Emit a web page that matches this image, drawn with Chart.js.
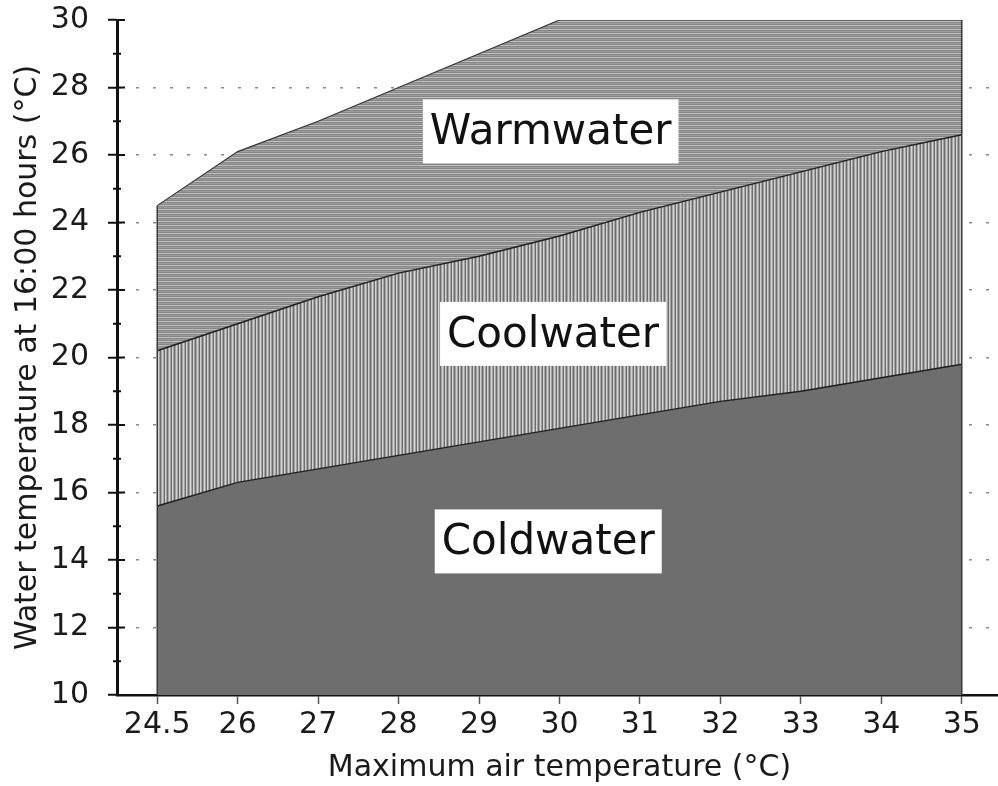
<!DOCTYPE html>
<html>
<head>
<meta charset="utf-8">
<script src="https://cdn.jsdelivr.net/npm/chart.js@4.4.0/dist/chart.umd.min.js"></script>
<style>
  html, body { margin: 0; padding: 0; background: #fff; overflow: hidden; }
  #wrap { width: 1002px; height: 786px; }
</style>
</head>
<body>
<div id="wrap"><canvas id="grafico"></canvas></div>
<script>
// eixo x: temperatura máxima do ar (categorias igualmente espaçadas)
const airTemps = ['24.5', '26', '27', '28', '29', '30', '31', '32', '33', '34', '35'];
// limites superiores de cada zona (°C)
const coldUpper = [15.6, 16.3, 16.7, 17.1, 17.5, 17.9, 18.3, 18.7, 19.0, 19.4, 19.8];
const coolUpper = [20.2, 21.0, 21.8, 22.5, 23.0, 23.6, 24.3, 24.9, 25.5, 26.1, 26.6];
const warmUpper = [24.5, 26.1, 27.0, 28.0, 29.0, 30, 30, 30, 30, 30, 30];
const zoneNames = ['Coldwater', 'Coolwater', 'Warmwater'];
const yTicksMajor = [10, 12, 14, 16, 18, 20, 22, 24, 26, 28, 30];

const FONTE = '"DejaVu Sans", sans-serif';

function padrao(w, h, desenhar) {
    const c = document.createElement('canvas');
    c.width = w; c.height = h;
    const g = c.getContext('2d');
    desenhar(g);
    return g.createPattern(c, 'repeat');
}

// hachura vertical (coolwater)
const listrasVerticais = padrao(7, 1, g => {
    g.fillStyle = '#a4a4a4'; g.fillRect(0, 0, 7, 1);
    g.fillStyle = '#d2d2d2'; g.fillRect(1, 0, 1, 1); g.fillRect(4, 0, 1, 1);
    g.fillStyle = '#6c6c6c'; g.fillRect(3, 0, 1, 1); g.fillRect(6, 0, 1, 1);
});

// hachura horizontal (warmwater)
const listrasHorizontais = padrao(1, 4, g => {
    g.fillStyle = '#878787'; g.fillRect(0, 0, 1, 4);
    g.fillStyle = '#c0c0c0'; g.fillRect(0, 1, 1, 1);
    g.fillStyle = '#9c9c9c'; g.fillRect(0, 3, 1, 1);
});

const extras = {
    id: 'extras',
    afterDatasetsDraw(chart, args, opts) {
        const { ctx, scales: { x, y } } = chart;
        const ultimo = airTemps.length - 1;

        // bordas verticais das zonas
        ctx.save();
        ctx.strokeStyle = '#3a3a3a';
        ctx.lineWidth = 1.5;
        [0, ultimo].forEach(i => {
            const px = x.getPixelForValue(i);
            ctx.beginPath();
            ctx.moveTo(px, y.getPixelForValue(y.min));
            ctx.lineTo(px, y.getPixelForValue(warmUpper[i]));
            ctx.stroke();
        });
        ctx.restore();

        // marcas do eixo y (parte interna e marcas menores)
        ctx.save();
        ctx.strokeStyle = '#111';
        ctx.lineWidth = 2;
        const ax = chart.chartArea.left;
        y.ticks.forEach(t => {
            const py = y.getPixelForValue(t.value);
            ctx.beginPath();
            if (yTicksMajor.includes(t.value)) {
                ctx.moveTo(ax, py); ctx.lineTo(ax + 8, py);
            } else {
                ctx.moveTo(ax - 4, py); ctx.lineTo(ax + 4, py);
            }
            ctx.stroke();
        });
        ctx.restore();

        // caixas com o nome de cada zona
        ctx.save();
        ctx.font = '42px ' + FONTE;
        ctx.textAlign = 'center';
        ctx.textBaseline = 'middle';
        opts.rotulos.forEach(r => {
            const cx = x.getPixelForValue(r.i);
            const cy = y.getPixelForValue(r.v);
            const w = ctx.measureText(r.texto).width + 14;
            const h = 64;
            ctx.fillStyle = '#fff';
            ctx.fillRect(cx - w / 2, cy - h / 2, w, h);
            ctx.fillStyle = '#111';
            ctx.fillText(r.texto, cx, cy + 2);
        });
        ctx.restore();
    }
};

const ctxGrafico = document.getElementById('grafico').getContext('2d');
new Chart(ctxGrafico, {
    type: 'line',
    data: {
        labels: airTemps,
        datasets: [
            {
                label: zoneNames[0],
                data: coldUpper,
                fill: 'start',
                backgroundColor: '#6e6e6e',
                borderColor: '#1e1e1e',
                borderWidth: 1.5
            },
            {
                label: zoneNames[1],
                data: coolUpper,
                fill: '-1',
                backgroundColor: listrasVerticais,
                borderColor: '#1e1e1e',
                borderWidth: 1.5
            },
            {
                label: zoneNames[2],
                data: warmUpper,
                fill: '-1',
                backgroundColor: listrasHorizontais,
                borderColor: '#333',
                borderWidth: 1.2
            }
        ]
    },
    options: {
        responsive: true,
        maintainAspectRatio: false,
        animation: false,
        elements: { point: { radius: 0 }, line: { tension: 0 } },
        layout: { padding: { top: 20, right: 0, left: 0, bottom: 0 } },
        plugins: {
            legend: { display: false },
            tooltip: { enabled: false },
            extras: {
                rotulos: [
                    { texto: zoneNames[2], i: 4.89, v: 26.7 },
                    { texto: zoneNames[1], i: 4.92, v: 20.7 },
                    { texto: zoneNames[0], i: 4.86, v: 14.55 }
                ]
            }
        },
        scales: {
            x: {
                offset: true,
                afterFit: s => { s.height = 91; s.paddingLeft = 0; s.paddingRight = 0; },
                border: { color: '#111', width: 2.5 },
                grid: {
                    drawOnChartArea: false,
                    tickLength: 9,
                    tickColor: '#555',
                    tickWidth: 1.5
                },
                ticks: {
                    color: '#1a1a1a',
                    padding: 3,
                    maxRotation: 0,
                    autoSkip: false,
                    font: { family: FONTE, size: 30 }
                },
                title: {
                    display: true,
                    text: 'Maximum air temperature (°C)',
                    color: '#1a1a1a',
                    padding: { top: 0, bottom: 0 },
                    font: { family: FONTE, size: 30 }
                }
            },
            y: {
                min: 10,
                max: 30,
                afterFit: s => { s.width = 117; s.paddingTop = 0; s.paddingBottom = 0; },
                border: { color: '#111', width: 3, dash: [3, 14] },
                grid: {
                    color: c => (c.tick && c.tick.value % 2 === 0 && c.tick.value > 10 && c.tick.value < 30) ? '#8a8a8a' : 'rgba(0,0,0,0)',
                    lineWidth: 1.5,
                    tickLength: 9,
                    tickColor: c => (c.tick && c.tick.value % 2 === 0) ? '#111' : 'rgba(0,0,0,0)',
                    tickWidth: 2,
                    tickBorderDash: [1, 0]
                },
                ticks: {
                    stepSize: 1,
                    autoSkip: false,
                    padding: 19,
                    color: '#1a1a1a',
                    font: { family: FONTE, size: 30 },
                    callback: v => (v % 2 === 0 ? v : '')
                },
                title: {
                    display: true,
                    text: 'Water temperature at 16:00 hours (°C)',
                    color: '#1a1a1a',
                    padding: { top: 10, bottom: 0 },
                    font: { family: FONTE, size: 30 }
                }
            }
        }
    },
    plugins: [extras]
});
</script>
</body>
</html>
